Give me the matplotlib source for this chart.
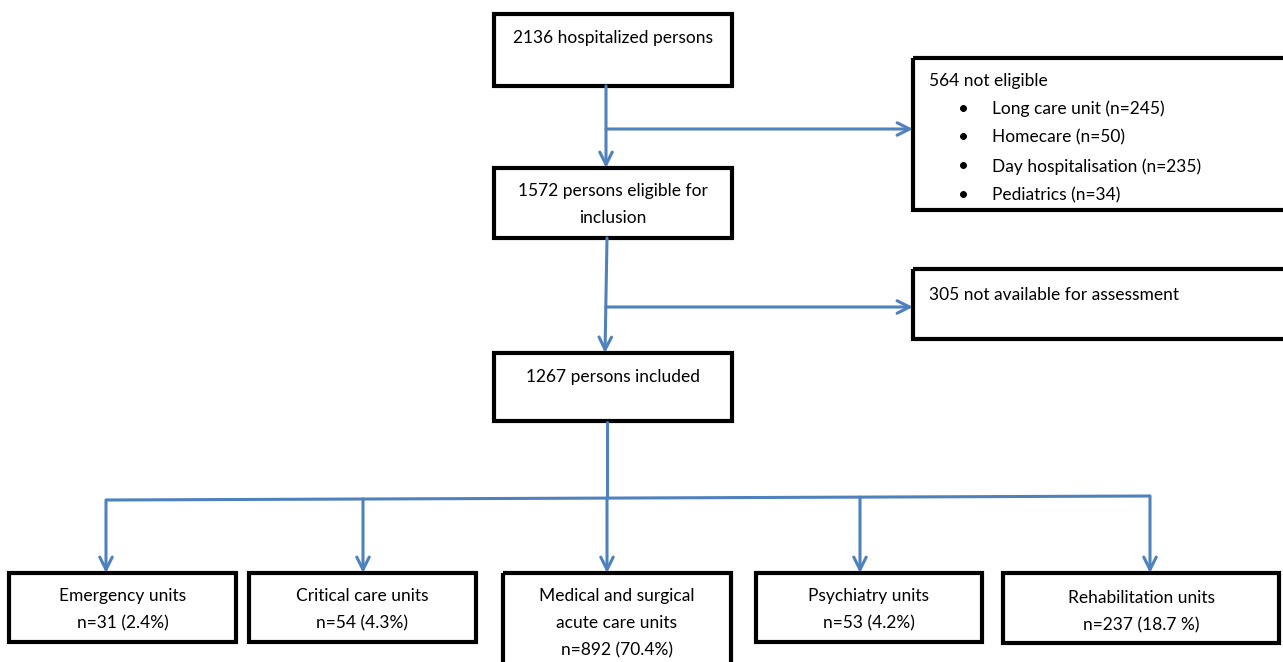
import matplotlib.pyplot as plt
from matplotlib.patches import Rectangle

plt.rcParams['font.family'] = ['Lato', 'DejaVu Sans']

# Flowchart data
n_hospitalized = 2136
n_eligible = 1572
n_not_available = 305
n_included = 1267
not_eligible_names = ['Long care unit', 'Homecare', 'Day hospitalisation', 'Pediatrics']
not_eligible_counts = [245, 50, 235, 34]
unit_names = ['Emergency units', 'Critical care units', 'Medical and surgical\nacute care units',
              'Psychiatry units', 'Rehabilitation units']
unit_counts = [31, 54, 892, 53, 237]
unit_pct = ['2.4%', '4.3%', '70.4%', '4.2%', '18.7 %']

BLUE = '#4F81BD'
FS = 12.5
DY = 2  # small downward nudge of text

fig = plt.figure(figsize=(12.83, 6.62), dpi=100)
ax = fig.add_axes([0, 0, 1, 1])
ax.set_xlim(0, 1283)
ax.set_ylim(662, 0)
ax.axis('off')


def box(x0, y0, x1, y1):
    ax.add_patch(Rectangle((x0, y0), x1 - x0, y1 - y0, fill=False,
                           edgecolor='black', linewidth=3, clip_on=False))


def line(xs, ys):
    ax.plot(xs, ys, color=BLUE, linewidth=2.2, solid_capstyle='butt')


def arrow(x0, y0, x1, y1):
    ax.annotate('', xy=(x1, y1), xytext=(x0, y0),
                arrowprops=dict(arrowstyle='->,head_length=0.9,head_width=0.45',
                                color=BLUE, lw=2.2, shrinkA=0, shrinkB=0))


def txt(x, y, s, ha='center', size=FS):
    ax.text(x, y + DY, s, ha=ha, va='center', fontsize=size)


# main column
box(494, 14, 732, 86)
txt(613, 36, f'{n_hospitalized} hospitalized persons')
box(494, 168, 732, 238)
txt(613, 189, f'{n_eligible} persons eligible for')
txt(613, 216, 'inclusion')
box(494, 353, 732, 421)
txt(613, 375, f'{n_included} persons included')

arrow(606, 86, 606, 168)
arrow(606, 129, 913, 129)
arrow(607, 238, 605, 353)
arrow(606, 307, 913, 307)

# exclusion boxes
box(913, 58, 1290, 210)
total_ne = sum(not_eligible_counts)
txt(929, 79, f'{total_ne} not eligible', ha='left')
for i, (name, c) in enumerate(zip(not_eligible_names, not_eligible_counts)):
    y = 107 + i * 28.7
    txt(964, y, '\u2022', size=FS + 1)
    txt(992, y, f'{name} (n={c})', ha='left')

box(913, 269, 1290, 339)
txt(929, 293, f'{n_not_available} not available for assessment', ha='left')

# split to units
box_x = [(9, 236), (249, 476), (503, 731), (756, 982), (1003, 1279)]
arrow_x = [106, 363, 607, 860, 1150]
box_bottom = [642, 642, 675, 642, 643]

line([607, 607], [421, 499])
line([arrow_x[0], arrow_x[-1]], [500, 496])
for i, ((x0, x1), ax_x) in enumerate(zip(box_x, arrow_x)):
    ytop = 500 - 4 * (ax_x - arrow_x[0]) / (arrow_x[-1] - arrow_x[0])
    arrow(ax_x, ytop, ax_x, 573)
    box(x0, 573, x1, box_bottom[i])
    cx = (x0 + x1) / 2
    lines = unit_names[i].split('\n') + [f'n={unit_counts[i]} ({unit_pct[i]})']
    y0 = 596 if i == 4 else 594
    for j, t in enumerate(lines):
        txt(cx, y0 + j * 27, t)

fig.savefig('out.png', dpi=100)
